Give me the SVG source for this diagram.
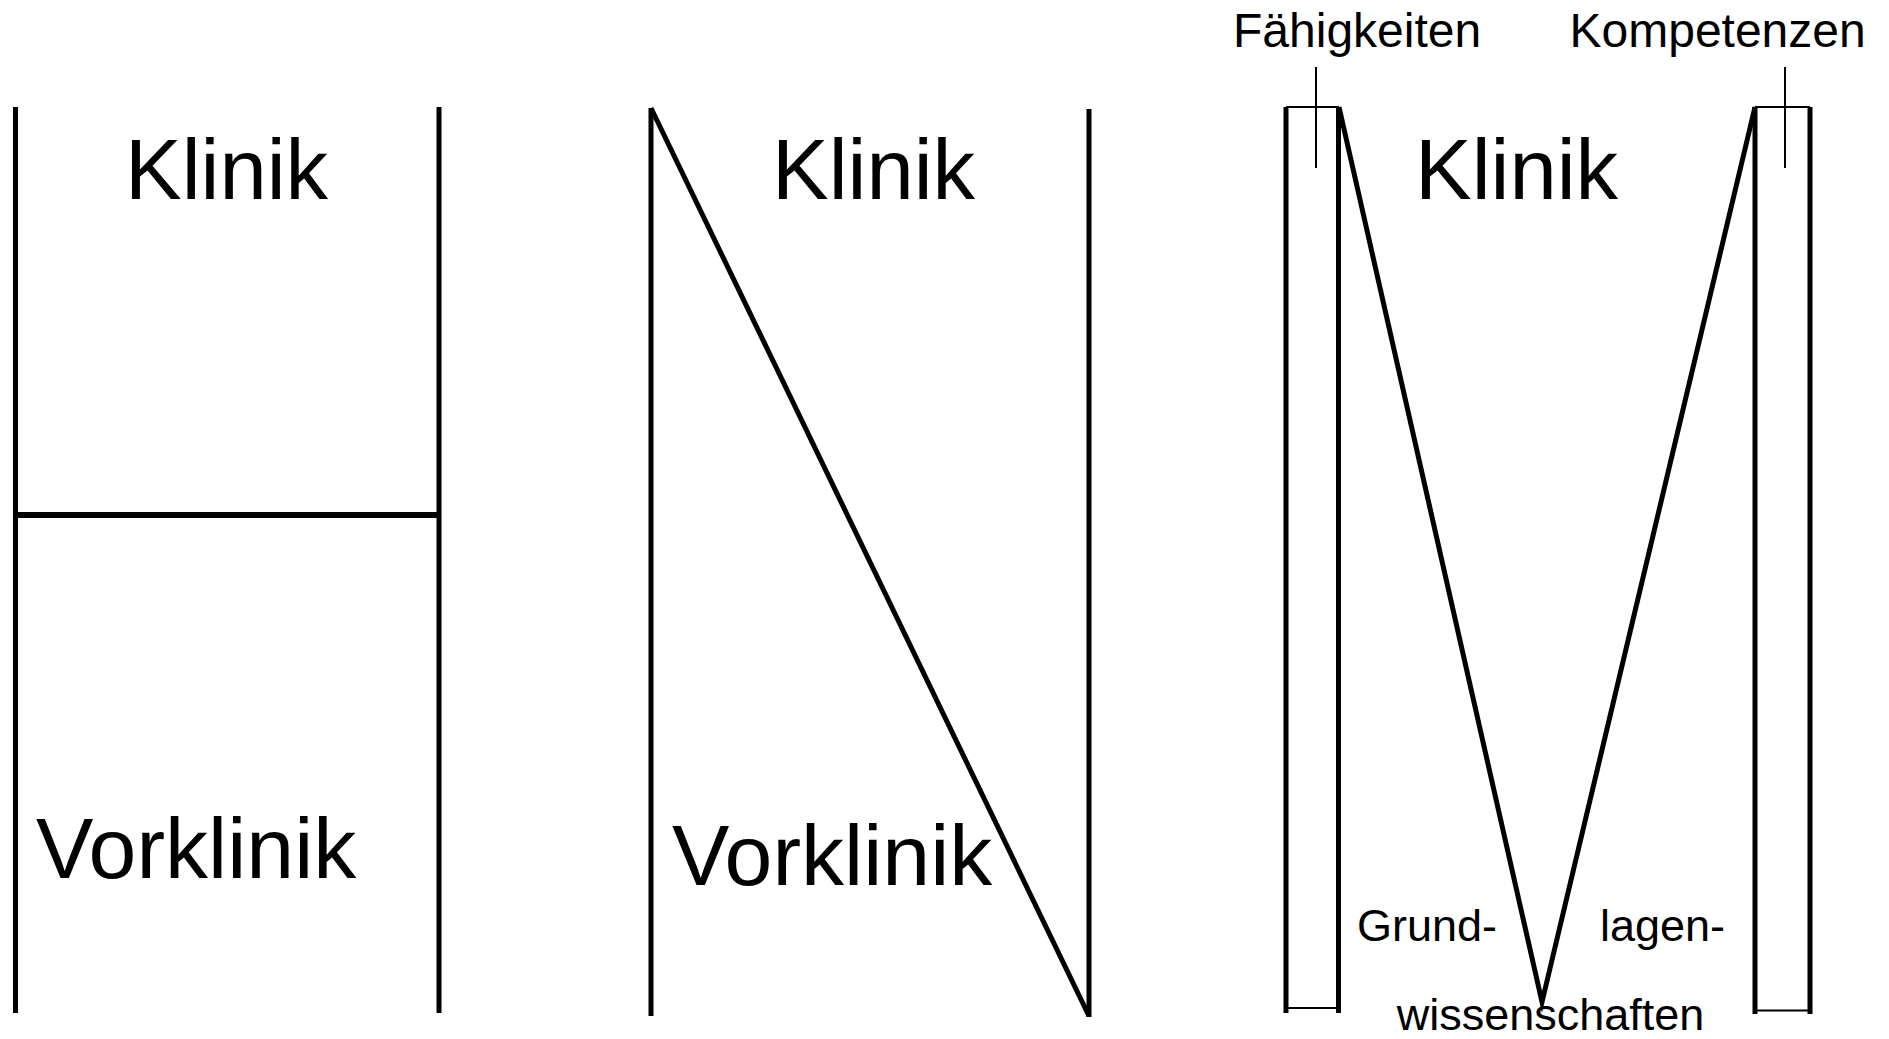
<svg xmlns="http://www.w3.org/2000/svg" width="1889" height="1039" viewBox="0 0 1889 1039">
<style>
.thick{stroke:#000;stroke-width:5;fill:none;stroke-linecap:butt}
.thin{stroke:#000;stroke-width:2;fill:none}
.big{font-family:"Liberation Sans",Arial,sans-serif;font-size:85px;fill:#000}
.lbl{font-family:"Liberation Sans",Arial,sans-serif;font-size:48px;fill:#000}
.sm{font-family:"Liberation Sans",Arial,sans-serif;font-size:45px;fill:#000}
</style>
<rect width="1889" height="1039" fill="#fff"/>
<g id="panel-h">
<line class="thick" x1="15.5" y1="107" x2="15.5" y2="1013"/>
<line class="thick" x1="439" y1="107" x2="439" y2="1013"/>
<line class="thick" x1="15" y1="515" x2="439" y2="515" style="stroke-width:6"/>
<text class="big" x="226.5" y="199" text-anchor="middle">Klinik</text>
<text class="big" x="36" y="878" style="font-size:86px">Vorklinik</text>
</g>
<g id="panel-n">
<line class="thick" x1="651" y1="108" x2="651" y2="1016"/>
<line class="thick" x1="1089" y1="109" x2="1089" y2="1017"/>
<line class="thick" x1="651" y1="108" x2="1089" y2="1016"/>
<text class="big" x="873.5" y="199" text-anchor="middle">Klinik</text>
<text class="big" x="672" y="885" style="font-size:86px">Vorklinik</text>
</g>
<g id="panel-m">
<g id="bar-faehigkeiten">
<line class="thick" x1="1286" y1="107" x2="1286" y2="1013"/>
<line class="thick" x1="1338.5" y1="107" x2="1338.5" y2="1013"/>
<line class="thin" x1="1286" y1="107" x2="1339" y2="107"/>
<line class="thin" x1="1286" y1="1008" x2="1339" y2="1008"/>
<line class="thin" x1="1316" y1="67" x2="1316" y2="168"/>
<text class="lbl" x="1233" y="47">Fähigkeiten</text>
</g>
<g id="bar-kompetenzen">
<line class="thick" x1="1755" y1="107" x2="1755" y2="1014"/>
<line class="thick" x1="1810" y1="107" x2="1810" y2="1014"/>
<line class="thin" x1="1755" y1="107" x2="1810" y2="107"/>
<line class="thin" x1="1755" y1="1010.5" x2="1810" y2="1010.5"/>
<line class="thin" x1="1785" y1="67" x2="1785" y2="168"/>
<text class="lbl" x="1569.5" y="47">Kompetenzen</text>
</g>
<polyline class="thick" points="1339,107 1542,1002 1755,107" style="stroke-miterlimit:10"/>
<text class="big" x="1516.5" y="199" text-anchor="middle">Klinik</text>
<text class="sm" x="1357" y="941">Grund-</text>
<text class="sm" x="1600" y="941">lagen-</text>
<text class="sm" x="1550.5" y="1030" text-anchor="middle">wissenschaften</text>
</g>
</svg>
